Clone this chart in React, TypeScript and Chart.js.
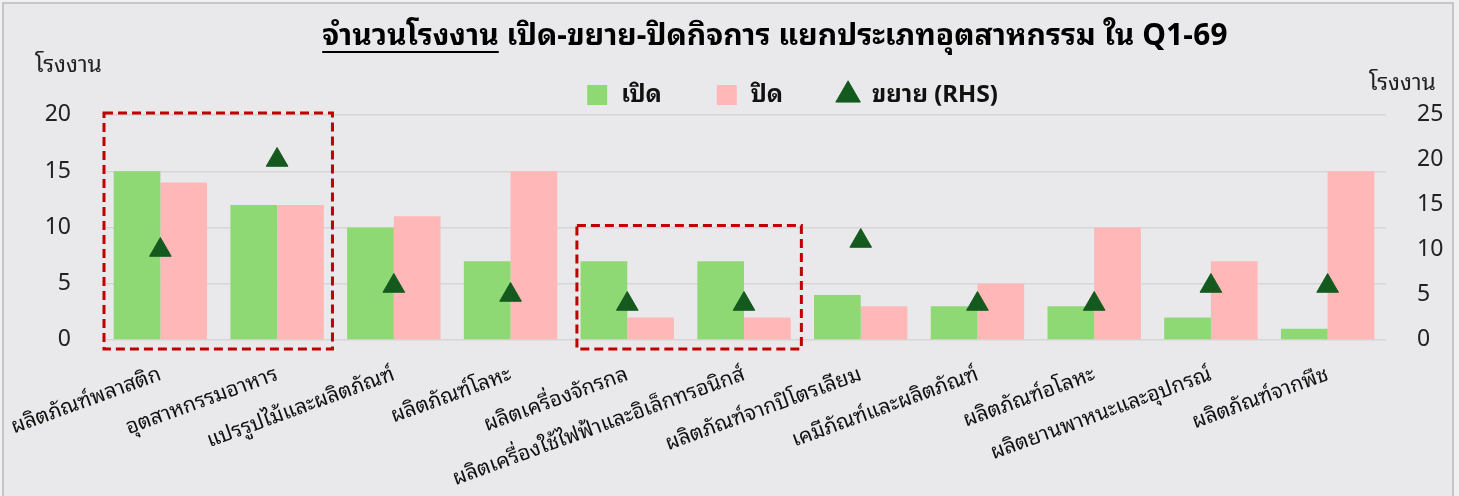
import React, { useEffect, useRef } from "react";
import { Chart, registerables } from "chart.js";

Chart.register(...registerables);

const categories = [
  "ผลิตภัณฑ์พลาสติก",
  "อุตสาหกรรมอาหาร",
  "แปรรูปไม้และผลิตภัณฑ์",
  "ผลิตภัณฑ์โลหะ",
  "ผลิตเครื่องจักรกล",
  "ผลิตเครื่องใช้ไฟฟ้าและอิเล็กทรอนิกส์",
  "ผลิตภัณฑ์จากปิโตรเลียม",
  "เคมีภัณฑ์และผลิตภัณฑ์",
  "ผลิตภัณฑ์อโลหะ",
  "ผลิตยานพาหนะและอุปกรณ์",
  "ผลิตภัณฑ์จากพืช",
];
const openValues = [15, 12, 10, 7, 7, 7, 4, 3, 3, 2, 1];
const closeValues = [14, 12, 11, 15, 2, 2, 3, 5, 10, 7, 15];
const expandValues = [10, 20, 6, 5, 4, 4, 11, 4, 4, 6, 6];
const leftTicks = [0, 5, 10, 15, 20];
const rightTicks = [0, 5, 10, 15, 20, 25];
const highlightGroups = [
  { from: 0, to: 1, top: 20 },
  { from: 4, to: 5, top: 10 },
];
const titleUnderlined = "จำนวนโรงงาน";
const titleRest = " เปิด-ขยาย-ปิดกิจการ แยกประเภทอุตสาหกรรม ใน Q1-69";
const axisUnit = "โรงงาน";

const FONT =
  "'Noto Sans Thai Looped', Loma, Garuda, 'Noto Sans Thai', 'Noto Sans', Tahoma, sans-serif";

export default function App() {
  const ref = useRef<HTMLCanvasElement>(null);
  useEffect(() => {
    const canvas = ref.current!;
    const LEGEND_PAD = 53;
    const decor = {
      id: "decor",
      beforeInit(chart: any) {
        const lg = chart.legend;
        if (lg) {
          const orig = lg.fit.bind(lg);
          lg.fit = function () {
            orig();
            this.height = 85;
          };
        }
      },
      afterLayout(chart: any) {
        const lg = chart.legend;
        if (lg) {
          lg.left += 62;
          lg.right += 62;
        }
      },
      beforeDraw(chart: any) {
        const ctx = chart.ctx;
        ctx.save();
        ctx.fillStyle = "#f0f0f0";
        ctx.fillRect(0, 0, chart.width, chart.height);
        ctx.fillStyle = "#e9e9eb";
        ctx.fillRect(3, 3, 1450, 500);
        ctx.strokeStyle = "#c6c6c6";
        ctx.lineWidth = 2;
        ctx.strokeRect(3, 3, 1450, 500);
        ctx.restore();
      },
      afterDatasetsDraw(chart: any) {
        const ctx = chart.ctx;
        const x = chart.scales.x;
        const y = chart.scales.y;
        const half = (x.getPixelForValue(1) - x.getPixelForValue(0)) / 2;
        const insetL = [2, 8];
        const insetR = [3, 1];
        ctx.save();
        ctx.strokeStyle = "#c00000";
        ctx.lineWidth = 3;
        ctx.setLineDash([9, 5]);
        highlightGroups.forEach((g, i) => {
          const l = x.getPixelForValue(g.from) - half + insetL[i];
          const r = x.getPixelForValue(g.to) + half - insetR[i];
          const t = y.getPixelForValue(g.top) - 2;
          const b = y.getPixelForValue(0) + 9;
          ctx.strokeRect(l, t, r - l, b - t);
        });
        ctx.restore();
      },
      afterDraw(chart: any) {
        const ctx = chart.ctx;
        ctx.save();
        ctx.fillStyle = "#000";
        ctx.strokeStyle = "#000";
        ctx.font = `bold 30px ${FONT}`;
        ctx.textBaseline = "middle";
        const w1 = ctx.measureText(titleUnderlined).width;
        const w2 = ctx.measureText(titleRest).width;
        const cx = 775;
        const sx = cx - (w1 + w2) / 2;
        ctx.textAlign = "left";
        ctx.fillText(titleUnderlined, sx, 37);
        ctx.fillText(titleRest, sx + w1, 37);
        ctx.lineWidth = 2;
        ctx.beginPath();
        ctx.moveTo(sx, 52);
        ctx.lineTo(sx + w1, 52);
        ctx.stroke();
        ctx.font = `23px ${FONT}`;
        ctx.fillStyle = "#222";
        ctx.textAlign = "left";
        ctx.fillText(axisUnit, 35, 66);
        ctx.fillText(axisUnit, 1369, 84);
        ctx.restore();
      },
    };

    const chart = new Chart(canvas, {
      type: "bar",
      data: {
        labels: categories,
        datasets: [
          {
            type: "line",
            label: "ขยาย (RHS)",
            data: expandValues,
            yAxisID: "y1",
            showLine: false,
            pointStyle: "triangle",
            pointRadius: 12.5,
            pointBackgroundColor: "#145a1e",
            pointBorderColor: "#145a1e",
            backgroundColor: "#145a1e",
            borderColor: "#145a1e",
            pointBorderWidth: 1,
            order: 0,
          } as any,
          {
            label: "เปิด",
            data: openValues,
            backgroundColor: "#8fd974",
            pointStyle: "rect",
            yAxisID: "y",
            order: 1,
          },
          {
            label: "ปิด",
            data: closeValues,
            backgroundColor: "#ffb7b7",
            pointStyle: "rect",
            yAxisID: "y",
            order: 1,
          },
        ],
      },
      options: {
        responsive: false,
        animation: false,
        events: [],
        layout: { padding: { left: 0, right: 0, top: 30, bottom: 6 } },
        datasets: { bar: { barPercentage: 1, categoryPercentage: 0.8 } },
        plugins: {
          title: { display: false },
          tooltip: { enabled: false },
          legend: {
            display: true,
            position: "top",
            labels: {
              usePointStyle: true,
              boxHeight: 20,
              padding: LEGEND_PAD,
              color: "#111",
              font: { family: FONT, size: 24, weight: "bold" },
              sort: (a: any, b: any) => {
                const order = ["เปิด", "ปิด", "ขยาย (RHS)"];
                return order.indexOf(a.text) - order.indexOf(b.text);
              },
            },
          },
        },
        scales: {
          x: {
            grid: { display: false, drawTicks: false },
            border: { display: false },
            ticks: {
              maxRotation: 20,
              minRotation: 20,
              autoSkip: false,
              padding: 22,
              color: "#111",
              font: { family: FONT, size: 21 },
            },
            afterFit(scale: any) {
              scale.height = 150;
              scale.paddingLeft = 0;
              scale.paddingRight = 0;
            },
          },
          y: {
            position: "left",
            min: 0,
            max: 20,
            afterBuildTicks(scale: any) {
              scale.ticks = leftTicks.map((v) => ({ value: v }));
            },
            grid: { color: "#d6d6d6", lineWidth: 1.5, drawTicks: false },
            border: { display: false },
            ticks: {
              padding: 31,
              color: "#222",
              font: { family: FONT, size: 23 },
            },
            afterFit(scale: any) {
              scale.width = 102;
            },
          },
          y1: {
            position: "right",
            min: 0,
            max: 25,
            afterBuildTicks(scale: any) {
              scale.ticks = rightTicks.map((v) => ({ value: v }));
            },
            grid: { display: false, drawTicks: false },
            border: { display: false },
            ticks: {
              padding: 31,
              color: "#222",
              font: { family: FONT, size: 23 },
            },
            afterFit(scale: any) {
              scale.width = 73;
            },
          },
        },
      },
      plugins: [decor],
    } as any);
    return () => chart.destroy();
  }, []);
  return (
    <div style={{ position: "absolute", left: 0, top: 0, width: 1459, height: 496 }}>
      <canvas ref={ref} width={1459} height={496} style={{ display: "block" }} />
    </div>
  );
}
